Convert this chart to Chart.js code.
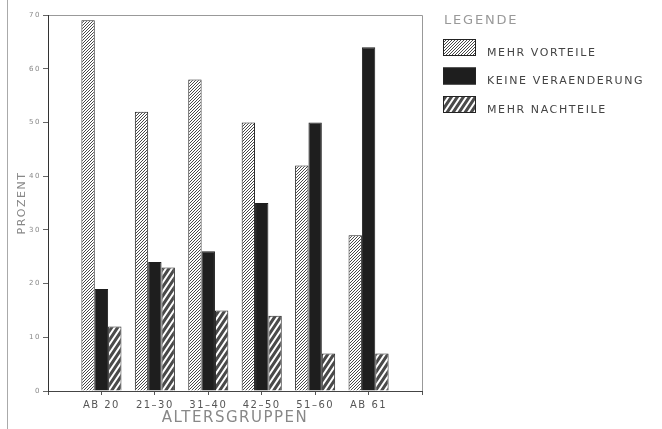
<!DOCTYPE html>
<html>
<head>
<meta charset="utf-8">
<script src="https://cdn.jsdelivr.net/npm/chart.js@4.4.1/dist/chart.umd.min.js"></script>
<style>
  html, body { margin: 0; padding: 0; background: #fff; }
  #wrap { position: relative; width: 662px; height: 429px; }
</style>
</head>
<body>
<div id="wrap"><canvas id="chart" width="662" height="429"></canvas></div>
<script>
const categories = ['AB 20', '21\u201330', '31\u201340', '42\u201350', '51\u201360', 'AB 61'];
const mehrVorteile = [69, 52, 58, 50, 42, 29];
const keineVeraenderung = [19, 24, 26, 35, 50, 64];
const mehrNachteile = [12, 23, 15, 14, 7, 7];
const seriesNames = ['MEHR VORTEILE', 'KEINE VERAENDERUNG', 'MEHR NACHTEILE'];
const yTicks = [0, 10, 20, 30, 40, 50, 60, 70];

const FONT = "'DejaVu Sans', sans-serif";

// diagonal hatch pattern, lines going up to the right
const makeHatch = (w, h, lineWidth, color) => {
    const c = document.createElement('canvas');
    c.width = w;
    c.height = h;
    const g = c.getContext('2d');
    g.fillStyle = '#fff';
    g.fillRect(0, 0, w, h);
    g.strokeStyle = color;
    g.lineWidth = lineWidth;
    g.lineCap = 'square';
    g.beginPath();
    g.moveTo(-w, 2 * h); g.lineTo(2 * w, -h);
    g.moveTo(-2 * w, 2 * h); g.lineTo(w, -h);
    g.moveTo(0, 2 * h); g.lineTo(3 * w, -h);
    g.stroke();
    return g.createPattern(c, 'repeat');
};

const finePattern = makeHatch(3, 3, 0.9, '#333');
const widePattern = makeHatch(6, 9, 3, '#4a4a4a');

// pad the category axis so groups sit like the original plot
const pad = (arr) => [null, ...arr, null];

const framePlugin = {
    id: 'frame',
    beforeLayout(chart) { chart.ctx.letterSpacing = '1.5px'; },
    beforeDraw(chart) {
        const ctx = chart.ctx;
        ctx.letterSpacing = '1.5px';
        const a = chart.chartArea;
        ctx.save();
        ctx.strokeStyle = '#aaa';
        ctx.lineWidth = 1;
        ctx.beginPath();
        ctx.moveTo(7.5, 0);
        ctx.lineTo(7.5, 429);
        ctx.stroke();
        ctx.strokeStyle = '#999';
        ctx.beginPath();
        ctx.moveTo(a.left, a.top + 0.5);
        ctx.lineTo(a.right + 0.5, a.top + 0.5);
        ctx.lineTo(a.right + 0.5, a.bottom);
        ctx.stroke();
        ctx.restore();
    },
    afterDraw(chart) {
        const ctx = chart.ctx;
        ctx.save();
        ctx.textBaseline = 'middle';
        ctx.textAlign = 'left';
        ctx.fillStyle = '#999';
        ctx.letterSpacing = '1.8px';
        ctx.font = '13px ' + FONT;
        ctx.fillText('LEGENDE', 444, 21);
        ctx.letterSpacing = '1.6px';
        ctx.font = '11px ' + FONT;
        chart.data.datasets.forEach((ds, i) => {
            const top = 39 + i * 28.5;
            ctx.fillStyle = ds.backgroundColor;
            ctx.fillRect(443, top, 33, 17);
            ctx.strokeStyle = '#222';
            ctx.lineWidth = 1;
            ctx.strokeRect(443.5, top + 0.5, 32, 16);
            ctx.fillStyle = '#444';
            ctx.fillText(ds.label, 487, top + 14);
        });
        ctx.restore();
    }
};

new Chart(document.getElementById('chart'), {
    type: 'bar',
    data: {
        labels: ['', ...categories, ''],
        datasets: [{
            label: seriesNames[0],
            data: pad(mehrVorteile),
            backgroundColor: finePattern,
            borderColor: '#222',
            borderWidth: 1
        }, {
            label: seriesNames[1],
            data: pad(keineVeraenderung),
            backgroundColor: '#1e1e1e',
            borderColor: '#1e1e1e',
            borderWidth: 1
        }, {
            label: seriesNames[2],
            data: pad(mehrNachteile),
            backgroundColor: widePattern,
            borderColor: '#222',
            borderWidth: 1
        }]
    },
    options: {
        responsive: false,
        animation: false,
        categoryPercentage: 0.75,
        barPercentage: 1.0,
        layout: {
            padding: { top: 15, right: 240, bottom: 0, left: 0 }
        },
        scales: {
            x: {
                offset: false,
                grid: {
                    display: true,
                    offset: false,
                    drawOnChartArea: false,
                    drawTicks: true,
                    tickLength: 4,
                    color: '#555'
                },
                border: { display: true, color: '#444' },
                ticks: {
                    autoSkip: false,
                    maxRotation: 0,
                    color: '#555',
                    padding: 4,
                    font: { family: FONT, size: 10 }
                },
                title: {
                    display: true,
                    text: 'ALTERSGRUPPEN',
                    color: '#888',
                    font: { family: FONT, size: 15 },
                    padding: { top: 0, bottom: 2 }
                },
                afterFit(scale) { scale.height = 38; }
            },
            y: {
                min: 0,
                max: 70,
                afterBuildTicks(scale) {
                    scale.ticks = yTicks.map(v => ({ value: v }));
                },
                grid: {
                    display: true,
                    drawOnChartArea: false,
                    drawTicks: true,
                    tickLength: 5,
                    color: '#666'
                },
                border: { display: true, color: '#333' },
                ticks: {
                    color: '#888',
                    padding: 2,
                    font: { family: FONT, size: 7 }
                },
                title: {
                    display: true,
                    text: 'PROZENT',
                    color: '#888',
                    font: { family: FONT, size: 11 },
                    padding: { top: 16, bottom: 0 }
                },
                afterFit(scale) { scale.width = 48; }
            }
        },
        plugins: {
            legend: { display: false },
            tooltip: { enabled: false }
        }
    },
    plugins: [framePlugin]
});
</script>
</body>
</html>
